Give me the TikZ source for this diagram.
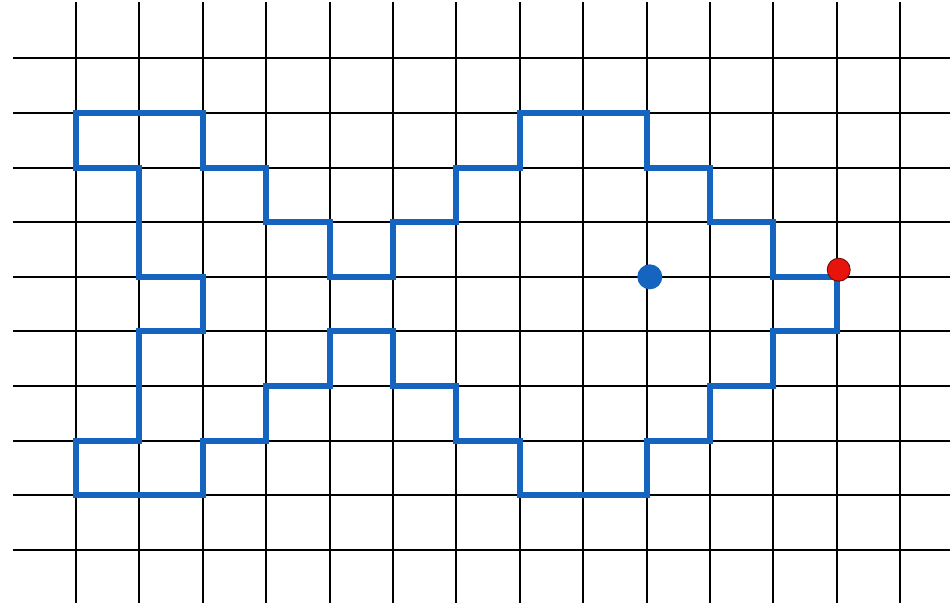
\documentclass[tikz,border=0pt]{standalone}
\usepackage{xcolor}
\definecolor{TraceBlue}{RGB}{21,101,192}
\definecolor{MarkRed}{RGB}{230,20,10}
\definecolor{MarkEdge}{RGB}{110,10,10}
\usepackage{tikz}
\tikzset{
  gridline/.style={draw=black,line width=1.1pt},
  traceline/.style={draw=TraceBlue,line width=3.4pt},
  bluedot/.style={circle,fill=TraceBlue,inner sep=0pt,minimum size=0.5cm},
  reddot/.style={circle,fill=MarkRed,draw=MarkEdge,line width=0.5pt,inner sep=0pt,minimum size=0.46cm}
}
\begin{document}
\begin{tikzpicture}[x=1.268cm,y=-1.092cm]
  \useasboundingbox (-1.199,-1.070) rectangle (13.785,9.974);
  % grid
  \foreach \c in {0,...,13}
    \draw[gridline] (\c,-1.033) -- (\c,9.974);
  \foreach \r in {0,...,9}
    \draw[gridline] (-0.994,\r) -- (13.785,\r);
  % closed trace
  \draw[traceline] (0,1) -- (2,1) -- (2,2) -- (3,2) -- (3,3) -- (4,3) -- (4,4)
    -- (5,4) -- (5,3) -- (6,3) -- (6,2) -- (7,2) -- (7,1) -- (9,1) -- (9,2)
    -- (10,2) -- (10,3) -- (11,3) -- (11,4) -- (12,4) -- (12,5) -- (11,5)
    -- (11,6) -- (10,6) -- (10,7) -- (9,7) -- (9,8) -- (7,8) -- (7,7) -- (6,7)
    -- (6,6) -- (5,6) -- (5,5) -- (4,5) -- (4,6) -- (3,6) -- (3,7) -- (2,7)
    -- (2,8) -- (0,8) -- (0,7) -- (1,7) -- (1,5) -- (2,5) -- (2,4) -- (1,4)
    -- (1,2) -- (0,2) -- cycle;
  % markers
  \node[bluedot] (centre) at (9.05,4) {};
  \node[reddot] (start) at (12.03,3.87) {};
\end{tikzpicture}
\end{document}
